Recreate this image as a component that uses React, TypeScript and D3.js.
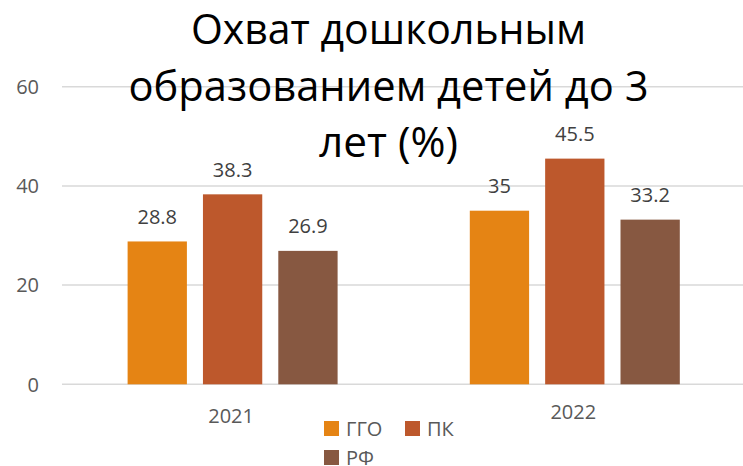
import React from "react";
import * as d3 from "d3";

const categories = ["2021", "2022"];
const seriesNames = ["ГГО", "ПК", "РФ"];
const seriesColors = ["#E58414", "#BD582C", "#875841"];
const valuesGGO = [28.8, 35];
const valuesPK = [38.3, 45.5];
const valuesRF = [26.9, 33.2];
const yTicks = [0, 20, 40, 60];
const titleLines = ["Охват дошкольным", "образованием детей до 3", "лет (%)"];

const W = 743;
const H = 466;
const FONT = "'Open Sans', 'Noto Sans', sans-serif";

export default function App() {
  const series = [valuesGGO, valuesPK, valuesRF];
  const y = d3.scaleLinear().domain([0, 60]).range([384.3, 86.7]);
  const x0 = d3.scaleBand<string>().domain(categories).range([61.5, 745.9]).padding(0);
  const groupW = 210;
  const x1 = d3
    .scaleBand<string>()
    .domain(seriesNames)
    .range([(x0.bandwidth() - groupW) / 2, (x0.bandwidth() + groupW) / 2])
    .paddingInner(0.213)
    .paddingOuter(0);

  const titleWidths = [395, 520, 139];
  const titleBaselines = [44, 101, 157];
  const titleCx = 388.5;

  const legendItems = [
    { name: seriesNames[0], x: 324, y: 421 },
    { name: seriesNames[1], x: 405, y: 421 },
    { name: seriesNames[2], x: 324, y: 450 },
  ];

  return (
    <svg
      width={W}
      height={H}
      style={{ position: "absolute", left: 0, top: 0, background: "#fff" }}
    >
      {/* gridlines */}
      {yTicks.map((t) => (
        <line
          key={"g" + t}
          x1={62}
          x2={W}
          y1={y(t)}
          y2={y(t)}
          stroke="#D9D9D9"
          strokeWidth={1.5}
        />
      ))}
      {/* y tick labels */}
      {yTicks.map((t) => (
        <text
          key={"t" + t}
          x={39}
          y={y(t)}
          dy="0.36em"
          textAnchor="end"
          fontFamily={FONT}
          fontSize={20}
          fill="#595959"
        >
          {t}
        </text>
      ))}
      {/* bars */}
      {categories.map((c, ci) => (
        <g key={c} transform={`translate(${x0(c)},0)`}>
          {seriesNames.map((s, si) => {
            const v = series[si][ci];
            return (
              <g key={s}>
                <rect
                  x={x1(s)}
                  y={y(v)}
                  width={x1.bandwidth()}
                  height={y(0) - y(v)}
                  fill={seriesColors[si]}
                />
                <text
                  x={(x1(s) as number) + x1.bandwidth() / 2}
                  y={y(v) - 17.5}
                  textAnchor="middle"
                  fontFamily={FONT}
                  fontSize={20}
                  fill="#404040"
                >
                  {String(v)}
                </text>
              </g>
            );
          })}
        </g>
      ))}
      {/* category labels */}
      {categories.map((c, ci) => (
        <text
          key={"c" + c}
          x={(x0(c) as number) + x0.bandwidth() / 2 - 1.5}
          y={ci === 0 ? 423 : 419}
          textAnchor="middle"
          fontFamily={FONT}
          fontSize={20}
          fill="#595959"
        >
          {c}
        </text>
      ))}
      {/* title */}
      {titleLines.map((l, i) => (
        <text
          key={"title" + i}
          x={titleCx}
          y={titleBaselines[i]}
          textAnchor="middle"
          fontFamily={FONT}
          fontSize={42}
          fill="#000"
          textLength={titleWidths[i]}
          lengthAdjust="spacingAndGlyphs"
        >
          {l}
        </text>
      ))}
      {/* legend */}
      {legendItems.map((it, i) => (
        <g key={"l" + i}>
          <rect x={it.x} y={it.y} width={15} height={15} fill={seriesColors[i]} />
          <text
            x={it.x + 22}
            y={it.y + 14.5}
            fontFamily={FONT}
            fontSize={20}
            fill="#595959"
          >
            {it.name}
          </text>
        </g>
      ))}
    </svg>
  );
}
